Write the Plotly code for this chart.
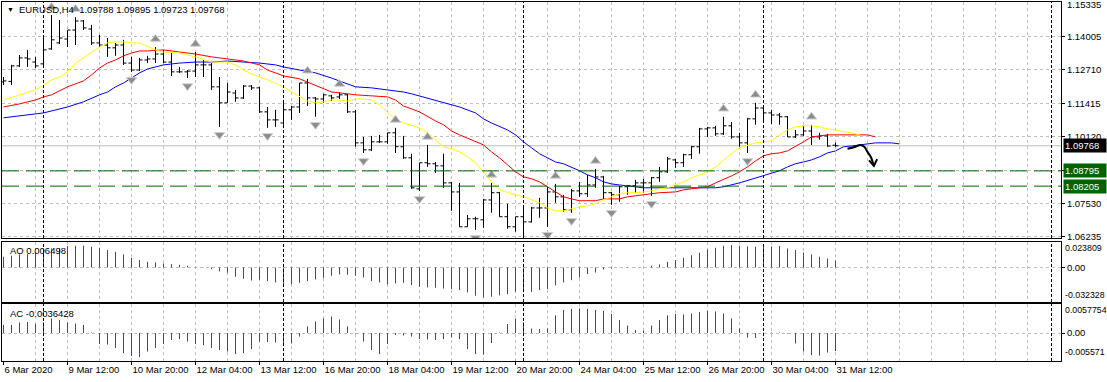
import plotly.graph_objects as go

# ---------------- data ----------------
bar_open = [1.1224, 1.1226, 1.1286, 1.1317, 1.1301, 1.1294, 1.1352, 1.1375, 1.1390, 1.1425,
            1.1460, 1.1429, 1.1375, 1.1367, 1.1356, 1.1367, 1.1297, 1.1270, 1.1309, 1.1313,
            1.1332, 1.1301, 1.1263, 1.1263, 1.1266, 1.1290, 1.1290, 1.1205, 1.1143, 1.1181,
            1.1162, 1.1208, 1.1201, 1.1108, 1.1077, 1.1065, 1.1116, 1.1127, 1.1220, 1.1162,
            1.1158, 1.1170, 1.1166, 1.1174, 1.1108, 1.0988, 1.0961, 1.0992, 1.0992, 1.1027,
            1.0973, 1.0930, 1.0810, 1.0911, 1.0907, 1.0899, 1.0833, 1.0798, 1.0663, 1.0694,
            1.0690, 1.0767, 1.0795, 1.0702, 1.0663, 1.0702, 1.0682, 1.0736, 1.0736, 1.0798,
            1.0779, 1.0729, 1.0802, 1.0791, 1.0825, 1.0856, 1.0795, 1.0787, 1.0818, 1.0822,
            1.0833, 1.0833, 1.0853, 1.0876, 1.0922, 1.0911, 1.0942, 1.0973, 1.1042, 1.1046,
            1.1023, 1.1054, 1.1011, 1.0988, 1.1081, 1.1123, 1.1104, 1.1096, 1.1089, 1.1011,
            1.1019, 1.1034, 1.1011, 1.1015, 1.09788]
bar_high = [1.1243, 1.1290, 1.1328, 1.1348, 1.1321, 1.1394, 1.1483, 1.1464, 1.1425, 1.1475,
            1.1464, 1.1445, 1.1406, 1.1394, 1.1375, 1.1387, 1.1321, 1.1317, 1.1325, 1.1359,
            1.1348, 1.1340, 1.1282, 1.1270, 1.1340, 1.1309, 1.1297, 1.1243, 1.1220, 1.1193,
            1.1212, 1.1212, 1.1205, 1.1127, 1.1116, 1.1154, 1.1131, 1.1220, 1.1236, 1.1166,
            1.1178, 1.1174, 1.1185, 1.1178, 1.1116, 1.1011, 1.1015, 1.1019, 1.1027, 1.1046,
            1.1015, 1.0946, 1.0911, 1.0980, 1.0914, 1.0946, 1.0837, 1.0833, 1.0709, 1.0702,
            1.0771, 1.0833, 1.0798, 1.0752, 1.0702, 1.0740, 1.0740, 1.0775, 1.0818, 1.0829,
            1.0787, 1.0810, 1.0837, 1.0864, 1.0887, 1.0860, 1.0798, 1.0822, 1.0825, 1.0845,
            1.0849, 1.0856, 1.0895, 1.0934, 1.0926, 1.0946, 1.0976, 1.1046, 1.1050, 1.1054,
            1.1089, 1.1069, 1.1027, 1.1085, 1.1143, 1.1127, 1.1116, 1.1104, 1.1092, 1.1038,
            1.1054, 1.1058, 1.1027, 1.1023, 1.09895]
bar_low = [1.1212, 1.1212, 1.1282, 1.1282, 1.1278, 1.1282, 1.1348, 1.1371, 1.1359, 1.1367,
           1.1425, 1.1367, 1.1359, 1.1321, 1.1325, 1.1290, 1.1263, 1.1266, 1.1297, 1.1297,
           1.1297, 1.1247, 1.1259, 1.1239, 1.1243, 1.1243, 1.1193, 1.1050, 1.1143, 1.1147,
           1.1158, 1.1193, 1.1104, 1.1046, 1.1050, 1.1058, 1.1077, 1.1104, 1.1131, 1.1089,
           1.1143, 1.1150, 1.1158, 1.1104, 1.0973, 1.0949, 1.0957, 1.0988, 1.0984, 1.0949,
           1.0926, 1.0810, 1.0802, 1.0895, 1.0872, 1.0814, 1.0725, 1.0663, 1.0663, 1.0651,
           1.0659, 1.0717, 1.0702, 1.0655, 1.0644, 1.0620, 1.0679, 1.0698, 1.0663, 1.0756,
           1.0721, 1.0717, 1.0779, 1.0779, 1.0814, 1.0771, 1.0748, 1.0760, 1.0787, 1.0795,
           1.0795, 1.0783, 1.0837, 1.0872, 1.0891, 1.0895, 1.0926, 1.0946, 1.1011, 1.1015,
           1.1019, 1.1004, 1.0973, 1.0949, 1.1058, 1.1065, 1.1061, 1.1058, 1.1011, 1.1007,
           1.1015, 1.0980, 1.1000, 1.0973, 1.09723]
bar_close = [1.1228, 1.1286, 1.1317, 1.1313, 1.1286, 1.1348, 1.1387, 1.1394, 1.1425, 1.1460,
             1.1433, 1.1375, 1.1367, 1.1356, 1.1367, 1.1297, 1.1270, 1.1309, 1.1313, 1.1332,
             1.1301, 1.1263, 1.1263, 1.1266, 1.1290, 1.1290, 1.1205, 1.1143, 1.1185, 1.1162,
             1.1208, 1.1201, 1.1108, 1.1077, 1.1077, 1.1116, 1.1127, 1.1220, 1.1162, 1.1158,
             1.1174, 1.1162, 1.1174, 1.1108, 1.0988, 1.0961, 1.0992, 1.0992, 1.1027, 1.0973,
             1.0930, 1.0814, 1.0911, 1.0907, 1.0899, 1.0833, 1.0798, 1.0663, 1.0694, 1.0694,
             1.0767, 1.0795, 1.0702, 1.0663, 1.0702, 1.0682, 1.0736, 1.0736, 1.0798, 1.0779,
             1.0729, 1.0802, 1.0791, 1.0825, 1.0856, 1.0795, 1.0787, 1.0818, 1.0822, 1.0833,
             1.0833, 1.0853, 1.0876, 1.0926, 1.0911, 1.0942, 1.0973, 1.1042, 1.1046, 1.1023,
             1.1054, 1.1011, 1.0988, 1.1081, 1.1123, 1.1104, 1.1096, 1.1089, 1.1011, 1.1019,
             1.1034, 1.1011, 1.1015, 1.0976, 1.09768]
bar_index = list(range(len(bar_close)))

time_labels = ["6 Mar 2020", "9 Mar 12:00", "10 Mar 20:00", "12 Mar 04:00", "13 Mar 12:00",
               "16 Mar 20:00", "18 Mar 04:00", "19 Mar 12:00", "20 Mar 20:00", "24 Mar 04:00",
               "25 Mar 12:00", "26 Mar 20:00", "30 Mar 04:00", "31 Mar 12:00"]
time_label_bars = [0, 8, 16, 24, 32, 40, 48, 56, 64, 72, 80, 88, 96, 104]

# Alligator lines (bar index, price)
lips = [(0, 1.1154), (2, 1.1174), (4, 1.1193), (5, 1.1212), (6, 1.1232), (7, 1.1243), (8, 1.1263),
        (9, 1.1297), (10, 1.1317), (11, 1.1336), (12, 1.1359), (13, 1.1375), (14, 1.1379), (15, 1.1379),
        (16, 1.1375), (17, 1.1375), (18, 1.1363), (19, 1.1348), (20, 1.1340), (22, 1.1336), (24, 1.1321),
        (26, 1.1301), (28, 1.1301), (29, 1.1290), (30, 1.1270), (31, 1.1255), (33, 1.1232), (35, 1.1205),
        (36, 1.1185), (37, 1.1166), (38, 1.1150), (39, 1.1143), (40, 1.1147), (41, 1.1154), (42, 1.1154),
        (43, 1.1150), (44, 1.1158), (45, 1.1158), (46, 1.1154), (47, 1.1135), (48, 1.1104), (49, 1.1077),
        (50, 1.1065), (51, 1.1054), (52, 1.1046), (53, 1.1027), (54, 1.1000), (55, 1.0973), (56, 1.0965),
        (57, 1.0953), (58, 1.0934), (59, 1.0911), (60, 1.0876), (61, 1.0837), (62, 1.0806), (63, 1.0795),
        (64, 1.0787), (65, 1.0779), (66, 1.0767), (67, 1.0756), (68, 1.0736), (69, 1.0725), (70, 1.0725),
        (71, 1.0733), (72, 1.0740), (73, 1.0744), (74, 1.0752), (75, 1.0767), (76, 1.0779), (77, 1.0791),
        (78, 1.0795), (79, 1.0795), (80, 1.0798), (81, 1.0802), (82, 1.0810), (83, 1.0814), (84, 1.0825),
        (85, 1.0837), (86, 1.0853), (87, 1.0864), (88, 1.0876), (89, 1.0895), (90, 1.0922), (91, 1.0946),
        (92, 1.0969), (93, 1.0980), (94, 1.0988), (95, 1.0992), (96, 1.0996), (97, 1.1019), (98, 1.1038),
        (99, 1.1050), (100, 1.1054), (101, 1.1054), (102, 1.1050), (103, 1.1042), (104, 1.1038),
        (105, 1.1031), (106, 1.1027), (107, 1.1019)]
teeth = [(0, 1.1127), (2, 1.1139), (4, 1.1154), (5, 1.1166), (6, 1.1174), (8, 1.1205), (10, 1.1228),
         (11, 1.1251), (12, 1.1278), (13, 1.1297), (14, 1.1309), (15, 1.1325), (16, 1.1336), (17, 1.1344),
         (18, 1.1344), (20, 1.1348), (22, 1.1340), (24, 1.1332), (26, 1.1321), (28, 1.1313), (30, 1.1305),
         (32, 1.1290), (33, 1.1270), (34, 1.1259), (35, 1.1247), (37, 1.1236), (39, 1.1212), (40, 1.1197),
         (41, 1.1185), (43, 1.1178), (44, 1.1174), (46, 1.1170), (48, 1.1166), (49, 1.1154), (50, 1.1131),
         (52, 1.1108), (53, 1.1089), (54, 1.1073), (55, 1.1058), (56, 1.1034), (57, 1.1019), (58, 1.1007),
         (59, 1.0992), (60, 1.0980), (61, 1.0953), (62, 1.0930), (63, 1.0903), (64, 1.0876), (65, 1.0856),
         (66, 1.0849), (67, 1.0837), (68, 1.0818), (69, 1.0798), (70, 1.0779), (71, 1.0771), (72, 1.0764),
         (74, 1.0764), (75, 1.0771), (77, 1.0771), (78, 1.0779), (79, 1.0783), (80, 1.0787), (81, 1.0791),
         (82, 1.0795), (84, 1.0798), (85, 1.0806), (86, 1.0810), (87, 1.0814), (88, 1.0818), (89, 1.0833),
         (90, 1.0845), (91, 1.0860), (92, 1.0876), (93, 1.0895), (94, 1.0918), (95, 1.0938), (96, 1.0946),
         (97, 1.0949), (98, 1.0957), (99, 1.0973), (100, 1.0992), (101, 1.1011), (102, 1.1015),
         (103, 1.1019), (107, 1.1019), (108, 1.1019), (109, 1.1011)]
jaw = [(0, 1.1085), (4, 1.1100), (5, 1.1104), (8, 1.1127), (10, 1.1147), (12, 1.1174), (13, 1.1185),
       (14, 1.1205), (15, 1.1220), (16, 1.1239), (17, 1.1259), (18, 1.1274), (19, 1.1282), (20, 1.1290),
       (22, 1.1297), (24, 1.1301), (26, 1.1301), (28, 1.1305), (30, 1.1301), (32, 1.1297), (34, 1.1290),
       (35, 1.1282), (37, 1.1270), (39, 1.1259), (41, 1.1239), (43, 1.1216), (44, 1.1205), (46, 1.1201),
       (48, 1.1193), (50, 1.1185), (51, 1.1178), (52, 1.1170), (53, 1.1162), (55, 1.1143), (57, 1.1127),
       (59, 1.1104), (60, 1.1081), (61, 1.1065), (63, 1.1038), (64, 1.1019), (65, 1.0992), (66, 1.0969),
       (67, 1.0946), (68, 1.0930), (69, 1.0914), (70, 1.0907), (71, 1.0895), (72, 1.0880), (73, 1.0864),
       (74, 1.0853), (75, 1.0837), (76, 1.0829), (77, 1.0825), (78, 1.0822), (79, 1.0818), (80, 1.0814),
       (89, 1.0814), (90, 1.0818), (92, 1.0833), (94, 1.0853), (96, 1.0872), (97, 1.0880), (98, 1.0895),
       (99, 1.0907), (100, 1.0914), (101, 1.0922), (102, 1.0934), (103, 1.0949), (104, 1.0957),
       (105, 1.0973), (106, 1.0976), (107, 1.0980), (108, 1.0984), (109, 1.0988), (111, 1.0988),
       (112, 1.0984)]

fractal_up_bars = [6, 9, 19, 24, 38, 42, 49, 53, 61, 69, 74, 90, 94, 101]
fractal_down_bars = [16, 23, 27, 33, 39, 45, 52, 59, 65, 68, 71, 76, 81, 93]

ao_vals = [0.0100, 0.0109, 0.0122, 0.0125, 0.0140, 0.0162, 0.0178, 0.0180, 0.0200, 0.0203,
           0.0204, 0.0193, 0.0184, 0.0162, 0.0147, 0.0122, 0.0090, 0.0069, 0.0053, 0.0047,
           0.0037, 0.0031, 0.0025, 0.0016, 0.0004, -0.0003, -0.0016, -0.0037, -0.0050, -0.0087,
           -0.0106, -0.0122, -0.0115, -0.0128, -0.0140, -0.0165, -0.0156, -0.0144, -0.0128, -0.0112,
           -0.0097, -0.0078, -0.0066, -0.0069, -0.0078, -0.0094, -0.0128, -0.0140, -0.0159, -0.0150,
           -0.0144, -0.0165, -0.0181, -0.0187, -0.0190, -0.0197, -0.0203, -0.0212, -0.0234, -0.0265,
           -0.0281, -0.0275, -0.0262, -0.0250, -0.0228, -0.0225, -0.0228, -0.0212, -0.0203, -0.0168,
           -0.0140, -0.0119, -0.0094, -0.0062, -0.0047, -0.0019, -0.0009, 0.0002, 0.0004, 0.0003,
           0.0002, 0.0016, 0.0028, 0.0053, 0.0069, 0.0090, 0.0115, 0.0137, 0.0168, 0.0184,
           0.0203, 0.0209, 0.0203, 0.0197, 0.0193, 0.0194, 0.0197, 0.0200, 0.0178, 0.0162,
           0.0140, 0.0122, 0.0100, 0.0084, 0.0065]
ao_colors = ("ggggggggggg" "rrrrrrrrrrrrrrrrrrrrr" "g" "rrr" "ggggggg" "rrrrrr" "gg" "rrrrrrrrrr"
             "ggggg" "r" "gggggggggggg" "rr" "ggggggggggg" "rrr" "ggg" "rrrrrrr")
ac_vals = [0.0016, 0.0016, 0.0021, 0.0022, 0.0018, 0.0021, 0.0029, 0.0026, 0.0021, 0.0019,
           0.0016, 0.0001, -0.0022, -0.0023, -0.0030, -0.0040, -0.0046, -0.0048, -0.0037, -0.0030,
           -0.0022, -0.0014, -0.0012, -0.0017, -0.0022, -0.0024, -0.0030, -0.0034, -0.0037, -0.0042,
           -0.0040, -0.0032, -0.0017, -0.0018, -0.0019, -0.0020, -0.0021, -0.0007, 0.0013, 0.0023,
           0.0029, 0.0033, 0.0027, 0.0013, -0.0001, -0.0017, -0.0034, -0.0042, -0.0022, -0.0004,
           -0.0005, -0.0007, -0.0012, -0.0013, -0.0014, -0.0012, -0.0009, -0.0012, -0.0032, -0.0042,
           -0.0043, -0.0020, 0.0001, 0.0018, 0.0028, 0.0021, 0.0009, 0.0008, 0.0009, 0.0035,
           0.0046, 0.0048, 0.0049, 0.0048, 0.0046, 0.0044, 0.0038, 0.0026, 0.0015, 0.0006,
           0.0005, 0.0015, 0.0026, 0.0035, 0.0038, 0.0037, 0.0039, 0.0042, 0.0044, 0.0043,
           0.0039, 0.0029, 0.0009, -0.0009, -0.0010, 0.0001, 0.0001, 0.0001, -0.0001, -0.0021,
           -0.0037, -0.0044, -0.0045, -0.0039, -0.0036]
ac_colors = ("gggg" "r" "gg" "rr" "g" "rrrrrrrr" "ggggg" "rrrrrrr" "ggg" "rrrr" "ggggg" "rrrrrr"
             "gg" "rrrrr" "gg" "rrrr" "gggg" "rrr" "ggggg" "rrrrrrr" "ggggg" "r" "ggg" "rrrrrr"
             "ggg" "rrrrr" "gg")

price_ticks = [1.06235, 1.07530, 1.08825, 1.10120, 1.11415, 1.12710, 1.14005]
price_tick_text = ["1.06235", "1.07530", "", "1.10120", "1.11415", "1.12710", "1.14005"]
price_top = 1.15335
price_bottom = 1.06196
ao_top, ao_bottom = 0.023809, -0.032328
ac_top, ac_bottom = 0.0057754, -0.0055718
ao_label, ac_label = "AO 0.006498", "AC -0.0036428"
side_label_text = ["1.15335", "0.023809", "-0.032328", "0.0057754", "-0.005571"]
bid_price = 1.09768
level_prices = [1.08795, 1.08205]
week_separator_bars = [5, 35, 65, 95, 131]
sketch_bars = [105.5, 106.5, 107.1, 107.6, 108.0, 108.4, 108.8]
sketch_prices = [1.0965, 1.0973, 1.0980, 1.0973, 1.0953, 1.0934, 1.0899]
head_bars = [108.2, 108.8, 109.2]
head_prices = [1.0920, 1.0899, 1.0925]

# ---------------- geometry / style ----------------
W, H = 1107, 382
FONT = "Liberation Sans, Arial, sans-serif"
FS = 9.5
GRID = "#c0c0c0"
GREEN = "#008000"
LEVEL_GREEN = "#006400"
FRACTAL_GAP = 0.0031


def py(p):
    return 1 - p / H


# 8 px per bar; offset by half a pixel so 1-px vertical strokes are crisp
x_range = [-0.1875, 132.1875]
x_dom = [2 / W, 1061 / W]
grid_bars = list(range(4, 129, 4))

fig = go.Figure()

fig.add_trace(go.Ohlc(x=bar_index, open=bar_open, high=bar_high, low=bar_low, close=bar_close,
                      increasing=dict(line=dict(color="black", width=1)),
                      decreasing=dict(line=dict(color="black", width=1)),
                      tickwidth=0.38, hoverinfo="skip", showlegend=False, xaxis="x", yaxis="y"))

for pts, col in [(jaw, "#0000ff"), (teeth, "#ff0000"), (lips, "#ffff00")]:
    xs = [p[0] for p in pts]
    ys = [p[1] for p in pts]
    fig.add_trace(go.Scatter(x=xs, y=ys, mode="lines", line=dict(color=col, width=1),
                             hoverinfo="skip", showlegend=False, xaxis="x", yaxis="y"))

fig.add_trace(go.Scatter(x=fractal_up_bars, y=[bar_high[i] + FRACTAL_GAP for i in fractal_up_bars],
                         mode="markers", marker=dict(symbol="triangle-up", size=9, color="#8c8c8c",
                                                     line=dict(color="#d0d0d0", width=1)),
                         hoverinfo="skip", showlegend=False, xaxis="x", yaxis="y"))
fig.add_trace(go.Scatter(x=fractal_down_bars, y=[bar_low[i] - FRACTAL_GAP for i in fractal_down_bars],
                         mode="markers", marker=dict(symbol="triangle-down", size=9, color="#8c8c8c",
                                                     line=dict(color="#d0d0d0", width=1)),
                         hoverinfo="skip", showlegend=False, xaxis="x", yaxis="y"))

fig.add_trace(go.Scatter(x=sketch_bars, y=sketch_prices, mode="lines",
                         line=dict(color="black", width=2, shape="spline"),
                         hoverinfo="skip", showlegend=False, xaxis="x", yaxis="y"))
fig.add_trace(go.Scatter(x=head_bars, y=head_prices, mode="lines",
                         line=dict(color="black", width=2),
                         hoverinfo="skip", showlegend=False, xaxis="x", yaxis="y"))


def stems(vals, flags, want):
    xs, ys = [], []
    for i, (v, f) in enumerate(zip(vals, flags)):
        if f == want:
            xs += [i, i, None]
            ys += [0, v, None]
    return xs, ys


for vals, flags, xa, ya in [(ao_vals, ao_colors, "x2", "y2"), (ac_vals, ac_colors, "x3", "y3")]:
    for want, col in [("g", GREEN), ("r", "#ff0000")]:
        xs, ys = stems(vals, flags, want)
        fig.add_trace(go.Scatter(x=xs, y=ys, mode="lines", line=dict(color=col, width=1),
                                 hoverinfo="skip", showlegend=False, xaxis=xa, yaxis=ya))

common_x = dict(domain=x_dom, range=x_range, showline=True, mirror=True, linecolor="black",
                linewidth=1, zeroline=False, fixedrange=True, automargin=False, tickangle=0)
grid_style = dict(gridcolor=GRID, griddash="3px,3px", gridwidth=1)
tf = dict(family=FONT, size=FS, color="black")
common_y = dict(side="right", ticks="outside", ticklen=3, tickcolor="black", showgrid=True,
                showline=True, mirror=True, linecolor="black", zeroline=False, fixedrange=True,
                automargin=False, tickfont=tf, tickmode="array")

fig.update_layout(
    width=W, height=H, margin=dict(l=0, r=0, t=0, b=0, autoexpand=False), autosize=False,
    paper_bgcolor="white", plot_bgcolor="white",
    font=dict(family=FONT, size=FS, color="black"),
    xaxis=dict(**common_x, anchor="y", tickmode="array", tickvals=grid_bars, showticklabels=False,
               ticks="", showgrid=True, **grid_style, rangeslider=dict(visible=False)),
    xaxis2=dict(**common_x, anchor="y2", tickmode="array", tickvals=grid_bars, showticklabels=False,
                ticks="", showgrid=True, **grid_style),
    xaxis3=dict(**common_x, anchor="y3", tickmode="array", tickvals=time_label_bars, ticktext=time_labels,
                ticks="outside", ticklen=3, tickcolor="black", ticklabelposition="outside right",
                showgrid=False, tickfont=tf,
                minor=dict(tickmode="array", tickvals=grid_bars, showgrid=True, ticks="", **grid_style)),
    yaxis=dict(**common_y, **grid_style, domain=[py(238), py(2)], range=[price_bottom, price_top],
               anchor="x", tickvals=price_ticks, ticktext=price_tick_text),
    yaxis2=dict(**common_y, **grid_style, domain=[py(302), py(242)], range=[ao_bottom, ao_top],
                anchor="x2", tickvals=[0], ticktext=["0.00"]),
    yaxis3=dict(**common_y, **grid_style, domain=[py(361), py(304)], range=[ac_bottom, ac_top],
                anchor="x3", tickvals=[0], ticktext=["0.00"]),
)

shapes = []
shapes.append(dict(type="line", xref="x domain", yref="y", x0=0, x1=1, y0=bid_price, y1=bid_price,
                   line=dict(color="#c0c0c0", width=1), layer="below"))
for lv in level_prices:
    shapes.append(dict(type="line", xref="x domain", yref="y", x0=0, x1=1, y0=lv, y1=lv,
                       line=dict(color=LEVEL_GREEN, width=1, dash="17px,7px")))
for yr in ["y domain", "y2 domain", "y3 domain"]:
    for b in week_separator_bars:
        shapes.append(dict(type="line", xref="x", yref=yr, x0=b, x1=b, y0=0, y1=1,
                           line=dict(color="black", width=1, dash="3px,2px")))
fig.update_layout(shapes=shapes)

ann = []
ann.append(dict(x=10 / W, y=py(10), xref="paper", yref="paper", text="▼", showarrow=False,
                xanchor="center", yanchor="middle", font=dict(size=7, color="black", family=FONT)))
ann.append(dict(x=17 / W, y=py(10), xref="paper", yref="paper",
                text="EURUSD,H4\u00a0\u00a0%.5f %.5f %.5f %.5f" % (bar_open[-1], bar_high[-1], bar_low[-1], bar_close[-1]),
                showarrow=False, xanchor="left", yanchor="middle", font=tf))
ann.append(dict(x=8 / W, y=py(250), xref="paper", yref="paper", text=ao_label,
                showarrow=False, xanchor="left", yanchor="middle", font=tf))
ann.append(dict(x=8 / W, y=py(313), xref="paper", yref="paper", text=ac_label,
                showarrow=False, xanchor="left", yanchor="middle", font=tf))

small_tf = dict(family=FONT, size=8.8, color="black")
for k, (txt, ypix) in enumerate(zip(side_label_text, [5, 248, 295, 310, 352])):
    ann.append(dict(x=(1065 if k == 0 else 1063) / W, y=py(ypix), xref="paper", yref="paper", text=txt,
                    showarrow=False, xanchor="left", yanchor="middle", font=tf if k == 0 else small_tf))

for val, bg in [(bid_price, "black"), (level_prices[0], LEVEL_GREEN), (level_prices[1], LEVEL_GREEN)]:
    ann.append(dict(x=1063 / W, y=val, xref="paper", yref="y", text="%.5f" % val, showarrow=False,
                    xanchor="left", yanchor="middle", bgcolor=bg, width=40, align="left", borderpad=1,
                    font=dict(size=FS, color="white", family=FONT)))
fig.update_layout(annotations=ann)

fig.write_html("out.html", config={"displayModeBar": False},
               post_script="document.body.style.margin='0';")
